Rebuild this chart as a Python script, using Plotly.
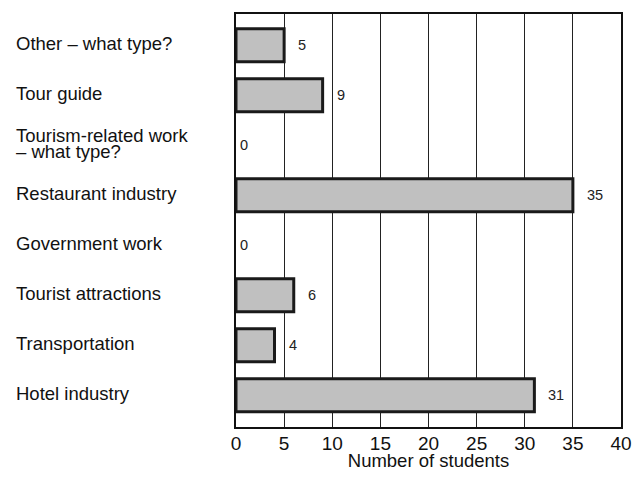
import plotly.graph_objects as go

categories = ["Hotel industry", "Transportation", "Tourist attractions", "Government work",
              "Restaurant industry", "Tourism-related work<br>– what type?", "Tour guide",
              "Other – what type?"]
values = [31, 4, 6, 0, 35, 0, 9, 5]
x_ticks = [0, 5, 10, 15, 20, 25, 30, 35, 40]

FONT = "Liberation Sans, Arial, sans-serif"
idx = list(range(len(categories)))

fig = go.Figure()
fig.add_trace(go.Bar(
    x=values, y=idx, orientation="h", width=0.66,
    marker=dict(color="#c0c0c0",
                line=dict(color="#1a1a1a", width=[0 if v == 0 else 3 for v in values])),
    hoverinfo="x+y",
))

annotations = []
for i, (c, v) in enumerate(zip(categories, values)):
    annotations.append(dict(x=v, y=i, xref="x", yref="y", text=str(v), showarrow=False,
                            xanchor="left", xshift=12 if v > 0 else 2,
                            font=dict(family=FONT, size=14.5, color="#222")))
    lines = c.split("<br>")
    n = len(lines)
    for k, line in enumerate(lines):
        annotations.append(dict(x=-0.5758, y=i, xref="paper", yref="y", text=line,
                                showarrow=False, xanchor="left", align="left",
                                font=dict(family=FONT, size=18.5, color="#111"),
                                yshift=1.5 + 8 * (n - 1) - 16 * k))

fig.update_layout(
    width=628, height=463,
    margin=dict(l=228, r=4, t=6, b=33),
    paper_bgcolor="white", plot_bgcolor="white",
    showlegend=False,
    font=dict(family=FONT, color="#111"),
    annotations=annotations,
    xaxis=dict(range=[0, 40], tickvals=x_ticks, showgrid=True, gridcolor="#222", gridwidth=1,
               showline=True, linecolor="#111", linewidth=2, mirror=True, ticks="",
               tickfont=dict(size=19, family=FONT), zeroline=False, ticklabeloverflow="allow",
               ticklabelstandoff=-2,
               title=dict(text="Number of students", font=dict(size=18.5, family=FONT), standoff=0)),
    yaxis=dict(range=[-0.633, 7.623], showticklabels=False, showgrid=False, zeroline=False,
               showline=True, linecolor="#111", linewidth=2, mirror=True, ticks=""),
)
fig.write_html("out.html", config={"displayModeBar": False})
